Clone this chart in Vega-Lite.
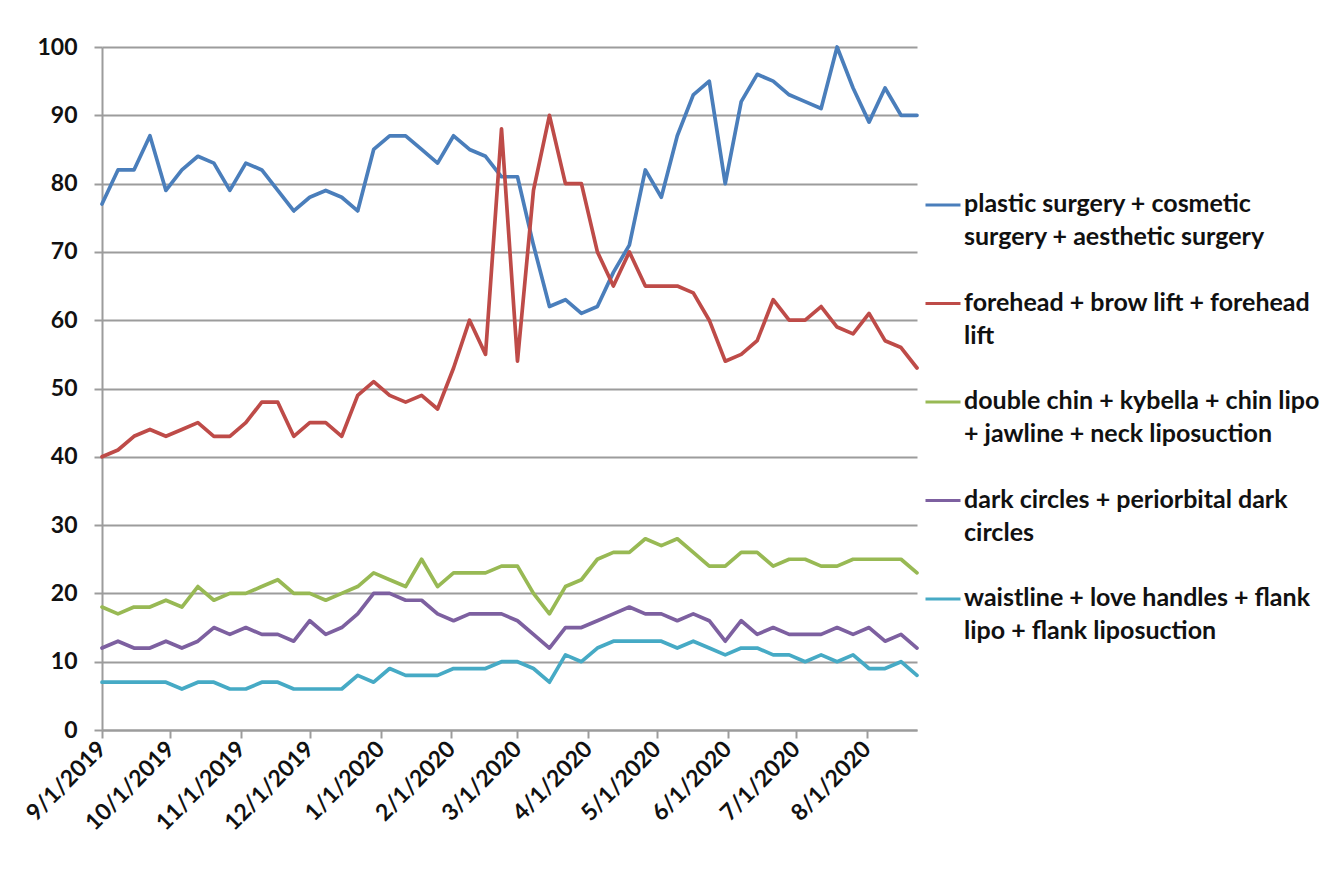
{
  "$schema": "https://vega.github.io/schema/vega-lite/v6.json",
  "width": 815,
  "height": 683,
  "autosize": {"type": "none"},
  "padding": {"left": 102, "top": 47, "right": 408, "bottom": 144},
  "background": "white",
  "config": {"view": {"stroke": null}, "font": "Lato"},
  "data": {"values": [
    {"week":"2019-09-01","term":"plastic surgery + cosmetic surgery + aesthetic surgery","value":77},
    {"week":"2019-09-08","term":"plastic surgery + cosmetic surgery + aesthetic surgery","value":82},
    {"week":"2019-09-15","term":"plastic surgery + cosmetic surgery + aesthetic surgery","value":82},
    {"week":"2019-09-22","term":"plastic surgery + cosmetic surgery + aesthetic surgery","value":87},
    {"week":"2019-09-29","term":"plastic surgery + cosmetic surgery + aesthetic surgery","value":79},
    {"week":"2019-10-06","term":"plastic surgery + cosmetic surgery + aesthetic surgery","value":82},
    {"week":"2019-10-13","term":"plastic surgery + cosmetic surgery + aesthetic surgery","value":84},
    {"week":"2019-10-20","term":"plastic surgery + cosmetic surgery + aesthetic surgery","value":83},
    {"week":"2019-10-27","term":"plastic surgery + cosmetic surgery + aesthetic surgery","value":79},
    {"week":"2019-11-03","term":"plastic surgery + cosmetic surgery + aesthetic surgery","value":83},
    {"week":"2019-11-10","term":"plastic surgery + cosmetic surgery + aesthetic surgery","value":82},
    {"week":"2019-11-17","term":"plastic surgery + cosmetic surgery + aesthetic surgery","value":79},
    {"week":"2019-11-24","term":"plastic surgery + cosmetic surgery + aesthetic surgery","value":76},
    {"week":"2019-12-01","term":"plastic surgery + cosmetic surgery + aesthetic surgery","value":78},
    {"week":"2019-12-08","term":"plastic surgery + cosmetic surgery + aesthetic surgery","value":79},
    {"week":"2019-12-15","term":"plastic surgery + cosmetic surgery + aesthetic surgery","value":78},
    {"week":"2019-12-22","term":"plastic surgery + cosmetic surgery + aesthetic surgery","value":76},
    {"week":"2019-12-29","term":"plastic surgery + cosmetic surgery + aesthetic surgery","value":85},
    {"week":"2020-01-05","term":"plastic surgery + cosmetic surgery + aesthetic surgery","value":87},
    {"week":"2020-01-12","term":"plastic surgery + cosmetic surgery + aesthetic surgery","value":87},
    {"week":"2020-01-19","term":"plastic surgery + cosmetic surgery + aesthetic surgery","value":85},
    {"week":"2020-01-26","term":"plastic surgery + cosmetic surgery + aesthetic surgery","value":83},
    {"week":"2020-02-02","term":"plastic surgery + cosmetic surgery + aesthetic surgery","value":87},
    {"week":"2020-02-09","term":"plastic surgery + cosmetic surgery + aesthetic surgery","value":85},
    {"week":"2020-02-16","term":"plastic surgery + cosmetic surgery + aesthetic surgery","value":84},
    {"week":"2020-02-23","term":"plastic surgery + cosmetic surgery + aesthetic surgery","value":81},
    {"week":"2020-03-01","term":"plastic surgery + cosmetic surgery + aesthetic surgery","value":81},
    {"week":"2020-03-08","term":"plastic surgery + cosmetic surgery + aesthetic surgery","value":71},
    {"week":"2020-03-15","term":"plastic surgery + cosmetic surgery + aesthetic surgery","value":62},
    {"week":"2020-03-22","term":"plastic surgery + cosmetic surgery + aesthetic surgery","value":63},
    {"week":"2020-03-29","term":"plastic surgery + cosmetic surgery + aesthetic surgery","value":61},
    {"week":"2020-04-05","term":"plastic surgery + cosmetic surgery + aesthetic surgery","value":62},
    {"week":"2020-04-12","term":"plastic surgery + cosmetic surgery + aesthetic surgery","value":67},
    {"week":"2020-04-19","term":"plastic surgery + cosmetic surgery + aesthetic surgery","value":71},
    {"week":"2020-04-26","term":"plastic surgery + cosmetic surgery + aesthetic surgery","value":82},
    {"week":"2020-05-03","term":"plastic surgery + cosmetic surgery + aesthetic surgery","value":78},
    {"week":"2020-05-10","term":"plastic surgery + cosmetic surgery + aesthetic surgery","value":87},
    {"week":"2020-05-17","term":"plastic surgery + cosmetic surgery + aesthetic surgery","value":93},
    {"week":"2020-05-24","term":"plastic surgery + cosmetic surgery + aesthetic surgery","value":95},
    {"week":"2020-05-31","term":"plastic surgery + cosmetic surgery + aesthetic surgery","value":80},
    {"week":"2020-06-07","term":"plastic surgery + cosmetic surgery + aesthetic surgery","value":92},
    {"week":"2020-06-14","term":"plastic surgery + cosmetic surgery + aesthetic surgery","value":96},
    {"week":"2020-06-21","term":"plastic surgery + cosmetic surgery + aesthetic surgery","value":95},
    {"week":"2020-06-28","term":"plastic surgery + cosmetic surgery + aesthetic surgery","value":93},
    {"week":"2020-07-05","term":"plastic surgery + cosmetic surgery + aesthetic surgery","value":92},
    {"week":"2020-07-12","term":"plastic surgery + cosmetic surgery + aesthetic surgery","value":91},
    {"week":"2020-07-19","term":"plastic surgery + cosmetic surgery + aesthetic surgery","value":100},
    {"week":"2020-07-26","term":"plastic surgery + cosmetic surgery + aesthetic surgery","value":94},
    {"week":"2020-08-02","term":"plastic surgery + cosmetic surgery + aesthetic surgery","value":89},
    {"week":"2020-08-09","term":"plastic surgery + cosmetic surgery + aesthetic surgery","value":94},
    {"week":"2020-08-16","term":"plastic surgery + cosmetic surgery + aesthetic surgery","value":90},
    {"week":"2020-08-23","term":"plastic surgery + cosmetic surgery + aesthetic surgery","value":90},

    {"week":"2019-09-01","term":"forehead + brow lift + forehead lift","value":40},
    {"week":"2019-09-08","term":"forehead + brow lift + forehead lift","value":41},
    {"week":"2019-09-15","term":"forehead + brow lift + forehead lift","value":43},
    {"week":"2019-09-22","term":"forehead + brow lift + forehead lift","value":44},
    {"week":"2019-09-29","term":"forehead + brow lift + forehead lift","value":43},
    {"week":"2019-10-06","term":"forehead + brow lift + forehead lift","value":44},
    {"week":"2019-10-13","term":"forehead + brow lift + forehead lift","value":45},
    {"week":"2019-10-20","term":"forehead + brow lift + forehead lift","value":43},
    {"week":"2019-10-27","term":"forehead + brow lift + forehead lift","value":43},
    {"week":"2019-11-03","term":"forehead + brow lift + forehead lift","value":45},
    {"week":"2019-11-10","term":"forehead + brow lift + forehead lift","value":48},
    {"week":"2019-11-17","term":"forehead + brow lift + forehead lift","value":48},
    {"week":"2019-11-24","term":"forehead + brow lift + forehead lift","value":43},
    {"week":"2019-12-01","term":"forehead + brow lift + forehead lift","value":45},
    {"week":"2019-12-08","term":"forehead + brow lift + forehead lift","value":45},
    {"week":"2019-12-15","term":"forehead + brow lift + forehead lift","value":43},
    {"week":"2019-12-22","term":"forehead + brow lift + forehead lift","value":49},
    {"week":"2019-12-29","term":"forehead + brow lift + forehead lift","value":51},
    {"week":"2020-01-05","term":"forehead + brow lift + forehead lift","value":49},
    {"week":"2020-01-12","term":"forehead + brow lift + forehead lift","value":48},
    {"week":"2020-01-19","term":"forehead + brow lift + forehead lift","value":49},
    {"week":"2020-01-26","term":"forehead + brow lift + forehead lift","value":47},
    {"week":"2020-02-02","term":"forehead + brow lift + forehead lift","value":53},
    {"week":"2020-02-09","term":"forehead + brow lift + forehead lift","value":60},
    {"week":"2020-02-16","term":"forehead + brow lift + forehead lift","value":55},
    {"week":"2020-02-23","term":"forehead + brow lift + forehead lift","value":88},
    {"week":"2020-03-01","term":"forehead + brow lift + forehead lift","value":54},
    {"week":"2020-03-08","term":"forehead + brow lift + forehead lift","value":79},
    {"week":"2020-03-15","term":"forehead + brow lift + forehead lift","value":90},
    {"week":"2020-03-22","term":"forehead + brow lift + forehead lift","value":80},
    {"week":"2020-03-29","term":"forehead + brow lift + forehead lift","value":80},
    {"week":"2020-04-05","term":"forehead + brow lift + forehead lift","value":70},
    {"week":"2020-04-12","term":"forehead + brow lift + forehead lift","value":65},
    {"week":"2020-04-19","term":"forehead + brow lift + forehead lift","value":70},
    {"week":"2020-04-26","term":"forehead + brow lift + forehead lift","value":65},
    {"week":"2020-05-03","term":"forehead + brow lift + forehead lift","value":65},
    {"week":"2020-05-10","term":"forehead + brow lift + forehead lift","value":65},
    {"week":"2020-05-17","term":"forehead + brow lift + forehead lift","value":64},
    {"week":"2020-05-24","term":"forehead + brow lift + forehead lift","value":60},
    {"week":"2020-05-31","term":"forehead + brow lift + forehead lift","value":54},
    {"week":"2020-06-07","term":"forehead + brow lift + forehead lift","value":55},
    {"week":"2020-06-14","term":"forehead + brow lift + forehead lift","value":57},
    {"week":"2020-06-21","term":"forehead + brow lift + forehead lift","value":63},
    {"week":"2020-06-28","term":"forehead + brow lift + forehead lift","value":60},
    {"week":"2020-07-05","term":"forehead + brow lift + forehead lift","value":60},
    {"week":"2020-07-12","term":"forehead + brow lift + forehead lift","value":62},
    {"week":"2020-07-19","term":"forehead + brow lift + forehead lift","value":59},
    {"week":"2020-07-26","term":"forehead + brow lift + forehead lift","value":58},
    {"week":"2020-08-02","term":"forehead + brow lift + forehead lift","value":61},
    {"week":"2020-08-09","term":"forehead + brow lift + forehead lift","value":57},
    {"week":"2020-08-16","term":"forehead + brow lift + forehead lift","value":56},
    {"week":"2020-08-23","term":"forehead + brow lift + forehead lift","value":53},

    {"week":"2019-09-01","term":"double chin + kybella + chin lipo + jawline + neck liposuction","value":18},
    {"week":"2019-09-08","term":"double chin + kybella + chin lipo + jawline + neck liposuction","value":17},
    {"week":"2019-09-15","term":"double chin + kybella + chin lipo + jawline + neck liposuction","value":18},
    {"week":"2019-09-22","term":"double chin + kybella + chin lipo + jawline + neck liposuction","value":18},
    {"week":"2019-09-29","term":"double chin + kybella + chin lipo + jawline + neck liposuction","value":19},
    {"week":"2019-10-06","term":"double chin + kybella + chin lipo + jawline + neck liposuction","value":18},
    {"week":"2019-10-13","term":"double chin + kybella + chin lipo + jawline + neck liposuction","value":21},
    {"week":"2019-10-20","term":"double chin + kybella + chin lipo + jawline + neck liposuction","value":19},
    {"week":"2019-10-27","term":"double chin + kybella + chin lipo + jawline + neck liposuction","value":20},
    {"week":"2019-11-03","term":"double chin + kybella + chin lipo + jawline + neck liposuction","value":20},
    {"week":"2019-11-10","term":"double chin + kybella + chin lipo + jawline + neck liposuction","value":21},
    {"week":"2019-11-17","term":"double chin + kybella + chin lipo + jawline + neck liposuction","value":22},
    {"week":"2019-11-24","term":"double chin + kybella + chin lipo + jawline + neck liposuction","value":20},
    {"week":"2019-12-01","term":"double chin + kybella + chin lipo + jawline + neck liposuction","value":20},
    {"week":"2019-12-08","term":"double chin + kybella + chin lipo + jawline + neck liposuction","value":19},
    {"week":"2019-12-15","term":"double chin + kybella + chin lipo + jawline + neck liposuction","value":20},
    {"week":"2019-12-22","term":"double chin + kybella + chin lipo + jawline + neck liposuction","value":21},
    {"week":"2019-12-29","term":"double chin + kybella + chin lipo + jawline + neck liposuction","value":23},
    {"week":"2020-01-05","term":"double chin + kybella + chin lipo + jawline + neck liposuction","value":22},
    {"week":"2020-01-12","term":"double chin + kybella + chin lipo + jawline + neck liposuction","value":21},
    {"week":"2020-01-19","term":"double chin + kybella + chin lipo + jawline + neck liposuction","value":25},
    {"week":"2020-01-26","term":"double chin + kybella + chin lipo + jawline + neck liposuction","value":21},
    {"week":"2020-02-02","term":"double chin + kybella + chin lipo + jawline + neck liposuction","value":23},
    {"week":"2020-02-09","term":"double chin + kybella + chin lipo + jawline + neck liposuction","value":23},
    {"week":"2020-02-16","term":"double chin + kybella + chin lipo + jawline + neck liposuction","value":23},
    {"week":"2020-02-23","term":"double chin + kybella + chin lipo + jawline + neck liposuction","value":24},
    {"week":"2020-03-01","term":"double chin + kybella + chin lipo + jawline + neck liposuction","value":24},
    {"week":"2020-03-08","term":"double chin + kybella + chin lipo + jawline + neck liposuction","value":20},
    {"week":"2020-03-15","term":"double chin + kybella + chin lipo + jawline + neck liposuction","value":17},
    {"week":"2020-03-22","term":"double chin + kybella + chin lipo + jawline + neck liposuction","value":21},
    {"week":"2020-03-29","term":"double chin + kybella + chin lipo + jawline + neck liposuction","value":22},
    {"week":"2020-04-05","term":"double chin + kybella + chin lipo + jawline + neck liposuction","value":25},
    {"week":"2020-04-12","term":"double chin + kybella + chin lipo + jawline + neck liposuction","value":26},
    {"week":"2020-04-19","term":"double chin + kybella + chin lipo + jawline + neck liposuction","value":26},
    {"week":"2020-04-26","term":"double chin + kybella + chin lipo + jawline + neck liposuction","value":28},
    {"week":"2020-05-03","term":"double chin + kybella + chin lipo + jawline + neck liposuction","value":27},
    {"week":"2020-05-10","term":"double chin + kybella + chin lipo + jawline + neck liposuction","value":28},
    {"week":"2020-05-17","term":"double chin + kybella + chin lipo + jawline + neck liposuction","value":26},
    {"week":"2020-05-24","term":"double chin + kybella + chin lipo + jawline + neck liposuction","value":24},
    {"week":"2020-05-31","term":"double chin + kybella + chin lipo + jawline + neck liposuction","value":24},
    {"week":"2020-06-07","term":"double chin + kybella + chin lipo + jawline + neck liposuction","value":26},
    {"week":"2020-06-14","term":"double chin + kybella + chin lipo + jawline + neck liposuction","value":26},
    {"week":"2020-06-21","term":"double chin + kybella + chin lipo + jawline + neck liposuction","value":24},
    {"week":"2020-06-28","term":"double chin + kybella + chin lipo + jawline + neck liposuction","value":25},
    {"week":"2020-07-05","term":"double chin + kybella + chin lipo + jawline + neck liposuction","value":25},
    {"week":"2020-07-12","term":"double chin + kybella + chin lipo + jawline + neck liposuction","value":24},
    {"week":"2020-07-19","term":"double chin + kybella + chin lipo + jawline + neck liposuction","value":24},
    {"week":"2020-07-26","term":"double chin + kybella + chin lipo + jawline + neck liposuction","value":25},
    {"week":"2020-08-02","term":"double chin + kybella + chin lipo + jawline + neck liposuction","value":25},
    {"week":"2020-08-09","term":"double chin + kybella + chin lipo + jawline + neck liposuction","value":25},
    {"week":"2020-08-16","term":"double chin + kybella + chin lipo + jawline + neck liposuction","value":25},
    {"week":"2020-08-23","term":"double chin + kybella + chin lipo + jawline + neck liposuction","value":23},

    {"week":"2019-09-01","term":"dark circles + periorbital dark circles","value":12},
    {"week":"2019-09-08","term":"dark circles + periorbital dark circles","value":13},
    {"week":"2019-09-15","term":"dark circles + periorbital dark circles","value":12},
    {"week":"2019-09-22","term":"dark circles + periorbital dark circles","value":12},
    {"week":"2019-09-29","term":"dark circles + periorbital dark circles","value":13},
    {"week":"2019-10-06","term":"dark circles + periorbital dark circles","value":12},
    {"week":"2019-10-13","term":"dark circles + periorbital dark circles","value":13},
    {"week":"2019-10-20","term":"dark circles + periorbital dark circles","value":15},
    {"week":"2019-10-27","term":"dark circles + periorbital dark circles","value":14},
    {"week":"2019-11-03","term":"dark circles + periorbital dark circles","value":15},
    {"week":"2019-11-10","term":"dark circles + periorbital dark circles","value":14},
    {"week":"2019-11-17","term":"dark circles + periorbital dark circles","value":14},
    {"week":"2019-11-24","term":"dark circles + periorbital dark circles","value":13},
    {"week":"2019-12-01","term":"dark circles + periorbital dark circles","value":16},
    {"week":"2019-12-08","term":"dark circles + periorbital dark circles","value":14},
    {"week":"2019-12-15","term":"dark circles + periorbital dark circles","value":15},
    {"week":"2019-12-22","term":"dark circles + periorbital dark circles","value":17},
    {"week":"2019-12-29","term":"dark circles + periorbital dark circles","value":20},
    {"week":"2020-01-05","term":"dark circles + periorbital dark circles","value":20},
    {"week":"2020-01-12","term":"dark circles + periorbital dark circles","value":19},
    {"week":"2020-01-19","term":"dark circles + periorbital dark circles","value":19},
    {"week":"2020-01-26","term":"dark circles + periorbital dark circles","value":17},
    {"week":"2020-02-02","term":"dark circles + periorbital dark circles","value":16},
    {"week":"2020-02-09","term":"dark circles + periorbital dark circles","value":17},
    {"week":"2020-02-16","term":"dark circles + periorbital dark circles","value":17},
    {"week":"2020-02-23","term":"dark circles + periorbital dark circles","value":17},
    {"week":"2020-03-01","term":"dark circles + periorbital dark circles","value":16},
    {"week":"2020-03-08","term":"dark circles + periorbital dark circles","value":14},
    {"week":"2020-03-15","term":"dark circles + periorbital dark circles","value":12},
    {"week":"2020-03-22","term":"dark circles + periorbital dark circles","value":15},
    {"week":"2020-03-29","term":"dark circles + periorbital dark circles","value":15},
    {"week":"2020-04-05","term":"dark circles + periorbital dark circles","value":16},
    {"week":"2020-04-12","term":"dark circles + periorbital dark circles","value":17},
    {"week":"2020-04-19","term":"dark circles + periorbital dark circles","value":18},
    {"week":"2020-04-26","term":"dark circles + periorbital dark circles","value":17},
    {"week":"2020-05-03","term":"dark circles + periorbital dark circles","value":17},
    {"week":"2020-05-10","term":"dark circles + periorbital dark circles","value":16},
    {"week":"2020-05-17","term":"dark circles + periorbital dark circles","value":17},
    {"week":"2020-05-24","term":"dark circles + periorbital dark circles","value":16},
    {"week":"2020-05-31","term":"dark circles + periorbital dark circles","value":13},
    {"week":"2020-06-07","term":"dark circles + periorbital dark circles","value":16},
    {"week":"2020-06-14","term":"dark circles + periorbital dark circles","value":14},
    {"week":"2020-06-21","term":"dark circles + periorbital dark circles","value":15},
    {"week":"2020-06-28","term":"dark circles + periorbital dark circles","value":14},
    {"week":"2020-07-05","term":"dark circles + periorbital dark circles","value":14},
    {"week":"2020-07-12","term":"dark circles + periorbital dark circles","value":14},
    {"week":"2020-07-19","term":"dark circles + periorbital dark circles","value":15},
    {"week":"2020-07-26","term":"dark circles + periorbital dark circles","value":14},
    {"week":"2020-08-02","term":"dark circles + periorbital dark circles","value":15},
    {"week":"2020-08-09","term":"dark circles + periorbital dark circles","value":13},
    {"week":"2020-08-16","term":"dark circles + periorbital dark circles","value":14},
    {"week":"2020-08-23","term":"dark circles + periorbital dark circles","value":12},

    {"week":"2019-09-01","term":"waistline + love handles + flank lipo + flank liposuction","value":7},
    {"week":"2019-09-08","term":"waistline + love handles + flank lipo + flank liposuction","value":7},
    {"week":"2019-09-15","term":"waistline + love handles + flank lipo + flank liposuction","value":7},
    {"week":"2019-09-22","term":"waistline + love handles + flank lipo + flank liposuction","value":7},
    {"week":"2019-09-29","term":"waistline + love handles + flank lipo + flank liposuction","value":7},
    {"week":"2019-10-06","term":"waistline + love handles + flank lipo + flank liposuction","value":6},
    {"week":"2019-10-13","term":"waistline + love handles + flank lipo + flank liposuction","value":7},
    {"week":"2019-10-20","term":"waistline + love handles + flank lipo + flank liposuction","value":7},
    {"week":"2019-10-27","term":"waistline + love handles + flank lipo + flank liposuction","value":6},
    {"week":"2019-11-03","term":"waistline + love handles + flank lipo + flank liposuction","value":6},
    {"week":"2019-11-10","term":"waistline + love handles + flank lipo + flank liposuction","value":7},
    {"week":"2019-11-17","term":"waistline + love handles + flank lipo + flank liposuction","value":7},
    {"week":"2019-11-24","term":"waistline + love handles + flank lipo + flank liposuction","value":6},
    {"week":"2019-12-01","term":"waistline + love handles + flank lipo + flank liposuction","value":6},
    {"week":"2019-12-08","term":"waistline + love handles + flank lipo + flank liposuction","value":6},
    {"week":"2019-12-15","term":"waistline + love handles + flank lipo + flank liposuction","value":6},
    {"week":"2019-12-22","term":"waistline + love handles + flank lipo + flank liposuction","value":8},
    {"week":"2019-12-29","term":"waistline + love handles + flank lipo + flank liposuction","value":7},
    {"week":"2020-01-05","term":"waistline + love handles + flank lipo + flank liposuction","value":9},
    {"week":"2020-01-12","term":"waistline + love handles + flank lipo + flank liposuction","value":8},
    {"week":"2020-01-19","term":"waistline + love handles + flank lipo + flank liposuction","value":8},
    {"week":"2020-01-26","term":"waistline + love handles + flank lipo + flank liposuction","value":8},
    {"week":"2020-02-02","term":"waistline + love handles + flank lipo + flank liposuction","value":9},
    {"week":"2020-02-09","term":"waistline + love handles + flank lipo + flank liposuction","value":9},
    {"week":"2020-02-16","term":"waistline + love handles + flank lipo + flank liposuction","value":9},
    {"week":"2020-02-23","term":"waistline + love handles + flank lipo + flank liposuction","value":10},
    {"week":"2020-03-01","term":"waistline + love handles + flank lipo + flank liposuction","value":10},
    {"week":"2020-03-08","term":"waistline + love handles + flank lipo + flank liposuction","value":9},
    {"week":"2020-03-15","term":"waistline + love handles + flank lipo + flank liposuction","value":7},
    {"week":"2020-03-22","term":"waistline + love handles + flank lipo + flank liposuction","value":11},
    {"week":"2020-03-29","term":"waistline + love handles + flank lipo + flank liposuction","value":10},
    {"week":"2020-04-05","term":"waistline + love handles + flank lipo + flank liposuction","value":12},
    {"week":"2020-04-12","term":"waistline + love handles + flank lipo + flank liposuction","value":13},
    {"week":"2020-04-19","term":"waistline + love handles + flank lipo + flank liposuction","value":13},
    {"week":"2020-04-26","term":"waistline + love handles + flank lipo + flank liposuction","value":13},
    {"week":"2020-05-03","term":"waistline + love handles + flank lipo + flank liposuction","value":13},
    {"week":"2020-05-10","term":"waistline + love handles + flank lipo + flank liposuction","value":12},
    {"week":"2020-05-17","term":"waistline + love handles + flank lipo + flank liposuction","value":13},
    {"week":"2020-05-24","term":"waistline + love handles + flank lipo + flank liposuction","value":12},
    {"week":"2020-05-31","term":"waistline + love handles + flank lipo + flank liposuction","value":11},
    {"week":"2020-06-07","term":"waistline + love handles + flank lipo + flank liposuction","value":12},
    {"week":"2020-06-14","term":"waistline + love handles + flank lipo + flank liposuction","value":12},
    {"week":"2020-06-21","term":"waistline + love handles + flank lipo + flank liposuction","value":11},
    {"week":"2020-06-28","term":"waistline + love handles + flank lipo + flank liposuction","value":11},
    {"week":"2020-07-05","term":"waistline + love handles + flank lipo + flank liposuction","value":10},
    {"week":"2020-07-12","term":"waistline + love handles + flank lipo + flank liposuction","value":11},
    {"week":"2020-07-19","term":"waistline + love handles + flank lipo + flank liposuction","value":10},
    {"week":"2020-07-26","term":"waistline + love handles + flank lipo + flank liposuction","value":11},
    {"week":"2020-08-02","term":"waistline + love handles + flank lipo + flank liposuction","value":9},
    {"week":"2020-08-09","term":"waistline + love handles + flank lipo + flank liposuction","value":9},
    {"week":"2020-08-16","term":"waistline + love handles + flank lipo + flank liposuction","value":10},
    {"week":"2020-08-23","term":"waistline + love handles + flank lipo + flank liposuction","value":8}
  ]},
  "mark": {"type": "line", "strokeWidth": 3.7, "strokeJoin": "round", "strokeCap": "round", "clip": false},
  "encoding": {
    "x": {
      "field": "week",
      "type": "temporal",
      "scale": {
        "type": "utc",
        "domain": [
          {"year": 2019, "month": 9, "date": 1, "utc": true},
          {"year": 2020, "month": 8, "date": 23, "utc": true}
        ]
      },
      "axis": {
        "title": null,
        "grid": false,
        "values": [
          {"year": 2019, "month": 9, "date": 1, "utc": true},
          {"year": 2019, "month": 10, "date": 1, "utc": true},
          {"year": 2019, "month": 11, "date": 1, "utc": true},
          {"year": 2019, "month": 12, "date": 1, "utc": true},
          {"year": 2020, "month": 1, "date": 1, "utc": true},
          {"year": 2020, "month": 2, "date": 1, "utc": true},
          {"year": 2020, "month": 3, "date": 1, "utc": true},
          {"year": 2020, "month": 4, "date": 1, "utc": true},
          {"year": 2020, "month": 5, "date": 1, "utc": true},
          {"year": 2020, "month": 6, "date": 1, "utc": true},
          {"year": 2020, "month": 7, "date": 1, "utc": true},
          {"year": 2020, "month": 8, "date": 1, "utc": true}
        ],
        "labelExpr": "utcFormat(datum.value, '%-m/%-d/%Y')",
        "labelAngle": -45,
        "labelAlign": "right",
        "labelBaseline": "middle",
        "labelPadding": 7,
        "labelFont": "Lato",
        "labelFontSize": 23,
        "labelFontWeight": "bold",
        "labelColor": "#111111",
        "labelOverlap": false,
        "labelFlush": false,
        "domainColor": "#9c9c9c",
        "domainWidth": 2,
        "tickColor": "#9c9c9c",
        "tickWidth": 2,
        "tickSize": 8
      }
    },
    "y": {
      "field": "value",
      "type": "quantitative",
      "scale": {"domain": [0, 100], "nice": false, "zero": true},
      "axis": {
        "title": null,
        "values": [0, 10, 20, 30, 40, 50, 60, 70, 80, 90, 100],
        "grid": true,
        "gridColor": "#9c9c9c",
        "gridWidth": 2,
        "domainColor": "#9c9c9c",
        "domainWidth": 2,
        "tickColor": "#9c9c9c",
        "tickWidth": 2,
        "tickSize": 8,
        "labelPadding": 17,
        "labelFont": "Lato",
        "labelFontSize": 23,
        "labelFontWeight": "bold",
        "labelColor": "#111111"
      }
    },
    "color": {
      "field": "term",
      "type": "nominal",
      "scale": {
        "domain": [
          "plastic surgery + cosmetic surgery + aesthetic surgery",
          "forehead + brow lift + forehead lift",
          "double chin + kybella + chin lipo + jawline + neck liposuction",
          "dark circles + periorbital dark circles",
          "waistline + love handles + flank lipo + flank liposuction"
        ],
        "range": ["#4a7ebb", "#be4b48", "#98b954", "#7d60a0", "#46aac5"]
      },
      "legend": {
        "orient": "none",
        "legendX": 822,
        "legendY": 139,
        "title": null,
        "padding": 0,
        "symbolType": "stroke",
        "symbolSize": 1225,
        "symbolStrokeWidth": 3,
        "labelFont": "Lato",
        "labelFontSize": 25,
        "labelFontWeight": "bold",
        "labelColor": "#111111",
        "labelLimit": 0,
        "labelOffset": 2,
        "labelBaseline": "top",
        "rowPadding": 34.5,
        "labelExpr": "datum.label == 'plastic surgery + cosmetic surgery + aesthetic surgery' ? ['plastic surgery + cosmetic', 'surgery + aesthetic surgery'] : datum.label == 'forehead + brow lift + forehead lift' ? ['forehead + brow lift + forehead', 'lift'] : datum.label == 'double chin + kybella + chin lipo + jawline + neck liposuction' ? ['double chin + kybella + chin lipo', '+ jawline + neck liposuction'] : datum.label == 'dark circles + periorbital dark circles' ? ['dark circles + periorbital dark', 'circles'] : ['waistline + love handles + flank', 'lipo + flank liposuction']",
        "encode": {
          "labels": {"update": {"lineHeight": {"value": 33}, "dy": {"value": -13}}}
        }
      }
    }
  }
}
